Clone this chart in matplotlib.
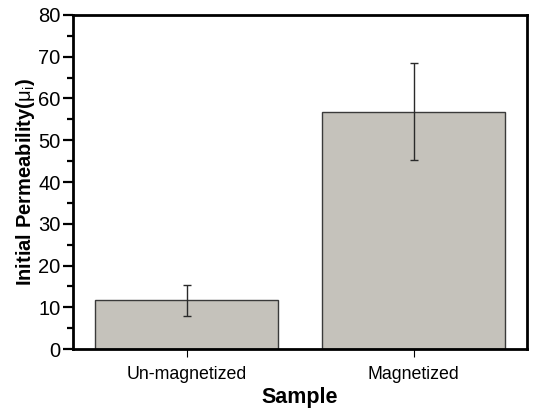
import matplotlib
matplotlib.use("Agg")
import matplotlib.pyplot as plt
from matplotlib.ticker import MultipleLocator

plt.rcParams["font.family"] = ["Liberation Sans", "DejaVu Sans"]
plt.rcParams["mathtext.fontset"] = "custom"
plt.rcParams["mathtext.rm"] = "Liberation Sans"
plt.rcParams["mathtext.it"] = "Liberation Sans:italic"

samples = ["Un-magnetized", "Magnetized"]
permeability = [11.7, 56.8]
errors = [3.7, 11.6]

fig = plt.figure(figsize=(5.34, 4.15), dpi=100)
ax = fig.add_axes([73 / 534, 1 - 349 / 415, 454 / 534, 334 / 415])

positions = range(1, len(samples) + 1)
ax.bar(positions, permeability, width=0.805, color="#c5c2bb",
       edgecolor="#3a3a3a", linewidth=1.0, zorder=2)
ax.errorbar(positions, permeability, yerr=errors, fmt="none",
            ecolor="#2a2a2a", elinewidth=1.0, capsize=3, capthick=1.0, zorder=3)

ax.set_xlim(0.5, 2.5)
ax.set_ylim(0, 80)
ax.set_xticks(list(positions))
ax.set_xticklabels(samples, fontsize=12.8)
ax.yaxis.set_major_locator(MultipleLocator(10))
ax.yaxis.set_minor_locator(MultipleLocator(5))
ax.tick_params(axis="y", which="major", direction="out", length=7, width=1.6,
               labelsize=14.5, pad=2)
ax.tick_params(axis="y", which="minor", direction="out", length=4, width=1.6)
ax.tick_params(axis="x", direction="out", length=6, width=0.8, pad=6)

for side in ["left", "bottom", "top", "right"]:
    ax.spines[side].set_linewidth(2.0)

ax.set_xlabel("Sample", fontsize=15.5, fontweight="bold", labelpad=3)
ax.set_ylabel(r"Initial Permeability($\mathrm{\mu}_\mathrm{i}$)", fontsize=14.5,
              fontweight="bold", labelpad=0.5)

fig.savefig("out.png", dpi=100)
